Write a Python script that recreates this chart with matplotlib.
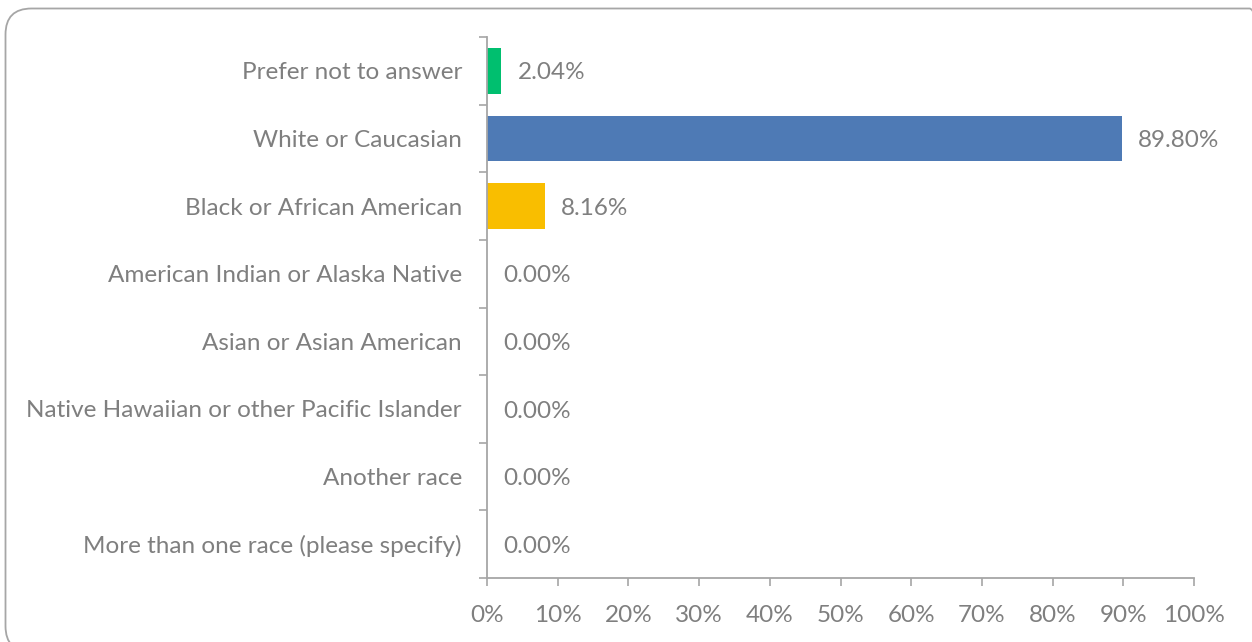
import matplotlib
matplotlib.use('Agg')
import matplotlib.pyplot as plt
from matplotlib.patches import FancyBboxPatch
from matplotlib.transforms import IdentityTransform

# data, top to bottom
categories = ['Prefer not to answer', 'White or Caucasian', 'Black or African American',
              'American Indian or Alaska Native', 'Asian or Asian American',
              'Native Hawaiian or other Pacific Islander', 'Another race',
              'More than one race (please specify)']
values = [2.04, 89.80, 8.16, 0.00, 0.00, 0.00, 0.00, 0.00]
colors = ['#00BF6F', '#4E7AB5', '#F9BE00', '#4E7AB5', '#4E7AB5', '#4E7AB5', '#4E7AB5', '#4E7AB5']
xticks = [0, 10, 20, 30, 40, 50, 60, 70, 80, 90, 100]

grey = '#7F7F7F'
plt.rcParams['font.family'] = ['Lato', 'DejaVu Sans']

fig = plt.figure(figsize=(12.52, 6.42), dpi=100)

# rounded frame around the chart (pixel coordinates)
frame = FancyBboxPatch((5.5, -10), 1270, 633.5 + 10,
                       boxstyle='round,pad=0,rounding_size=26', transform=IdentityTransform(),
                       facecolor='none', edgecolor='#A6A6A6', linewidth=1.3, zorder=-1)
fig.patches.append(frame)

ax = fig.add_axes([487 / 1252, 1 - 578 / 642, (1194 - 487) / 1252, (578 - 37) / 642])
ax.set_facecolor('none')

pos = list(range(len(categories)))
ax.barh(pos, values, height=0.676, color=colors)

for p, v in zip(pos, values):
    ax.annotate(f'{v:.2f}%', xy=(v, p), xytext=(11.5, -1.5), textcoords='offset points',
                va='center', ha='left', fontsize=17.5, color=grey)

ax.set_xlim(0, 100)
ax.set_ylim(len(categories) - 0.5, -0.5)
ax.set_xticks(xticks)
ax.set_xticklabels([f'{t}%' for t in xticks])

# ticks between categories, labels at the centres
ax.set_yticks([i - 0.5 for i in range(len(categories) + 1)])
ax.set_yticklabels([])
ax.set_yticks(pos, minor=True)
ax.set_yticklabels(categories, minor=True)
ax.tick_params(axis='y', which='minor', length=0, pad=18, labelsize=17.5, labelcolor=grey)
ax.tick_params(axis='y', which='major', length=6, width=1.2, color='#A6A6A6', direction='out')
ax.tick_params(axis='x', length=6, width=1.2, color='#A6A6A6', direction='out',
               labelsize=17.5, labelcolor=grey, pad=13.5)

for s in ['top', 'right']:
    ax.spines[s].set_visible(False)
for s in ['left', 'bottom']:
    ax.spines[s].set_color('#A6A6A6')
    ax.spines[s].set_linewidth(1.3)

fig.savefig('out.png', dpi=100)
